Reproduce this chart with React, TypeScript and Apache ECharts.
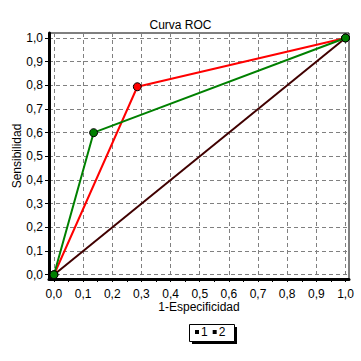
import React, { useEffect, useRef } from "react";
import * as echarts from "echarts";

const tickValues = [0, 0.1, 0.2, 0.3, 0.4, 0.5, 0.6, 0.7, 0.8, 0.9, 1.0];
const minorTickValues = [0, 0.05, 0.1, 0.15, 0.2, 0.25, 0.3, 0.35, 0.4, 0.45, 0.5, 0.55, 0.6, 0.65, 0.7, 0.75, 0.8, 0.85, 0.9, 0.95, 1.0];
const curve1 = [[0, 0], [0.286, 0.794], [1, 1]];
const curve2 = [[0, 0], [0.136, 0.6], [1, 1]];
const diagonal = [[0, 0], [1, 1]];
const seriesNames = ["1", "2"];

const fmt = (v: number) => v.toFixed(1).replace(".", ",");
const FONT = "Liberation Sans";
const X_MIN = -0.017;
const X_MAX = 1.012;

export default function App() {
  const ref = useRef<HTMLDivElement>(null);
  useEffect(() => {
    const chart = echarts.init(ref.current!, null, { renderer: "svg" });
    chart.setOption({
      animation: false,
      backgroundColor: "#ffffff",
      title: {
        text: "Curva ROC",
        left: "center",
        top: 14,
        textStyle: { fontFamily: FONT, fontSize: 12, fontWeight: "normal", color: "#000" },
      },
      grid: {
        left: 49,
        right: 12,
        top: 33,
        bottom: 82,
        outerBoundsMode: "none",
        show: true,
        borderColor: "#000",
        borderWidth: 1,
        backgroundColor: "#fff",
      },
      xAxis: [
        {
          type: "value",
          position: "bottom",
          min: X_MIN,
          max: X_MAX,
          name: "1-Especificidad",
          nameLocation: "middle",
          nameGap: 22,
          nameMoveOverlap: false,
          nameTextStyle: { fontFamily: FONT, fontSize: 12, color: "#000", verticalAlign: "top" },
          axisLine: { show: true, onZero: false, lineStyle: { color: "#000", width: 3 } },
          axisTick: { show: true, inside: false, length: 3, customValues: tickValues, lineStyle: { color: "#000" } },
          axisLabel: {
            customValues: tickValues,
            formatter: fmt,
            margin: 9,
            fontFamily: FONT,
            fontSize: 12,
            color: "#000",
          },
          splitLine: { show: true, lineStyle: { color: "#808080", type: [4, 3], width: 1 } },
        },
        {
          type: "value",
          position: "bottom",
          min: X_MIN,
          max: X_MAX,
          axisLine: { show: false, onZero: false },
          axisTick: { show: true, inside: false, length: 3, customValues: minorTickValues, lineStyle: { color: "#000" } },
          axisLabel: { show: false },
          splitLine: { show: false },
        },
      ],
      yAxis: {
        type: "value",
        min: -0.018,
        max: 1.021,
        name: "Sensibilidad",
        nameLocation: "middle",
        nameGap: 26,
        nameRotate: 90,
        nameMoveOverlap: false,
        nameTextStyle: { fontFamily: FONT, fontSize: 12, color: "#000" },
        axisLine: { show: true, onZero: false, lineStyle: { color: "#000", width: 3 } },
        axisTick: { show: true, inside: false, length: 4, customValues: tickValues, lineStyle: { color: "#000" } },
        axisLabel: {
          customValues: tickValues,
          formatter: fmt,
          margin: 6,
          fontFamily: FONT,
          fontSize: 12,
          color: "#000",
        },
        splitLine: { show: true, lineStyle: { color: "#808080", type: [4, 3], width: 1 } },
      },
      legend: {
        data: seriesNames,
        left: 195,
        top: 326,
        icon: "rect",
        itemWidth: 2,
        itemHeight: 2,
        itemGap: 5,
        padding: 0,
        textStyle: { fontFamily: FONT, fontSize: 12, color: "#000", padding: [0, 0, 0, -2] },
      },
      graphic: [
        { type: "rect", shape: { x: 192, y: 327, width: 45, height: 17 }, style: { fill: "#000" }, z: 0 },
        { type: "rect", shape: { x: 189.5, y: 324.5, width: 45, height: 17 }, style: { fill: "#fff", stroke: "#000", lineWidth: 1 }, z: 1 },
      ],
      series: [
        {
          name: "diag",
          type: "line",
          data: diagonal,
          symbol: "none",
          lineStyle: { color: "#400000", width: 2 },
          itemStyle: { color: "#400000" },
        },
        {
          name: "1",
          type: "line",
          data: curve1,
          symbol: "circle",
          symbolSize: 8,
          lineStyle: { color: "#ff0000", width: 2 },
          itemStyle: { color: "#ff0000", borderColor: "#000", borderWidth: 1 },
        },
        {
          name: "2",
          type: "line",
          data: curve2,
          symbol: "circle",
          symbolSize: 8,
          lineStyle: { color: "#008000", width: 2 },
          itemStyle: { color: "#008000", borderColor: "#000", borderWidth: 1 },
        },
      ],
    });
    return () => chart.dispose();
  }, []);
  return <div ref={ref} style={{ position: "absolute", left: 0, top: 0, width: 361, height: 361 }} />;
}
